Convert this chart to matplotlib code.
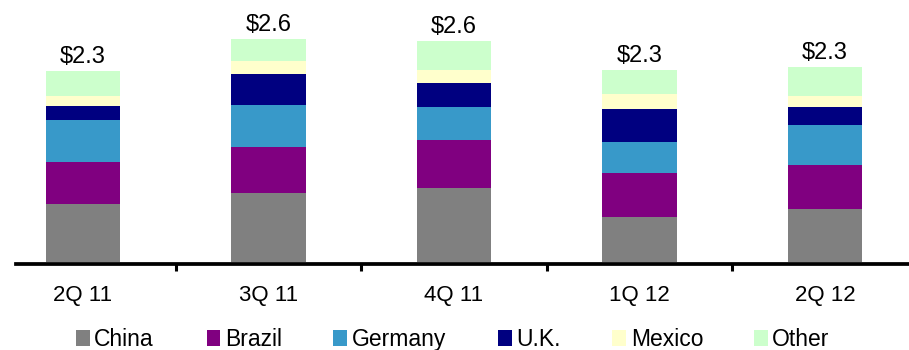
import matplotlib
matplotlib.use("Agg")
import matplotlib.pyplot as plt
import numpy as np

plt.rcParams['font.family'] = ['Liberation Sans', 'DejaVu Sans']

quarters = ["2Q 11", "3Q 11", "4Q 11", "1Q 12", "2Q 12"]
totals_labels = ["$2.3", "$2.6", "$2.6", "$2.3", "$2.3"]
china   = [0.70, 0.825, 0.885, 0.54, 0.64]
brazil  = [0.50, 0.55, 0.57, 0.52, 0.52]
germany = [0.50, 0.50, 0.39, 0.37, 0.48]
uk      = [0.155, 0.37, 0.29, 0.39, 0.21]
mexico  = [0.13, 0.15, 0.155, 0.18, 0.13]
other   = [0.29, 0.26, 0.34, 0.29, 0.34]

series = [("China", china, "#808080"),
          ("Brazil", brazil, "#800080"),
          ("Germany", germany, "#3899C9"),
          ("U.K.", uk, "#000080"),
          ("Mexico", mexico, "#FFFFCC"),
          ("Other", other, "#CCFFCC")]

W, H = 909, 350
PX_PER_UNIT = 84.0
axis_px = 264.4          # spine centre (pixels from top)
zero_px = 262.3          # visible base of the bars

fig = plt.figure(figsize=(W / 100, H / 100), dpi=100)
ax = fig.add_axes([16 / W, (H - axis_px) / H, 1 - 16 / W, axis_px / H])

x = np.arange(len(quarters))
bottom = np.zeros(len(quarters))
handles = []
for name, vals, col in series:
    b = ax.bar(x, vals, width=0.402, bottom=bottom, color=col, label=name,
               edgecolor='none', zorder=2)
    handles.append(b)
    bottom = bottom + np.array(vals)

for xi, tot, lab in zip(x, bottom, totals_labels):
    ax.annotate(lab, (xi, tot), xytext=(0, 6), textcoords='offset points',
                ha='center', va='baseline', fontsize=17, color='black')

ax.set_xlim(-0.361, 4.453)
ymin = -(axis_px - zero_px) / PX_PER_UNIT
ax.set_ylim(ymin, ymin + axis_px / PX_PER_UNIT)

for s in ['top', 'right', 'left']:
    ax.spines[s].set_visible(False)
ax.spines['bottom'].set_linewidth(2.7)
ax.spines['bottom'].set_zorder(3)
ax.set_yticks([])

# tick marks between categories, labels centred under bars
ax.set_xticks(np.arange(len(quarters) - 1) + 0.5)
ax.set_xticklabels([])
ax.tick_params(axis='x', which='major', length=4.8, width=2.2,
               direction='out', color='black')
ax.set_xticks(x, minor=True)
ax.set_xticklabels(quarters, minor=True, fontsize=16)
ax.tick_params(axis='x', which='minor', length=0, pad=15)

# legend entries placed individually to reproduce the reference spacing
legend_left_px = [76, 206.7, 333.3, 498.3, 612.3, 754]
for h, (name, _, _), lx in zip(handles, series, legend_left_px):
    fig.legend(handles=[h], labels=[name], loc='center left',
               bbox_to_anchor=(lx / W, 10.5 / H), frameon=False,
               fontsize=16.5, handlelength=0.6, handleheight=0.7,
               handletextpad=0.2, borderpad=0, borderaxespad=0)

fig.savefig("out.png", dpi=100)
